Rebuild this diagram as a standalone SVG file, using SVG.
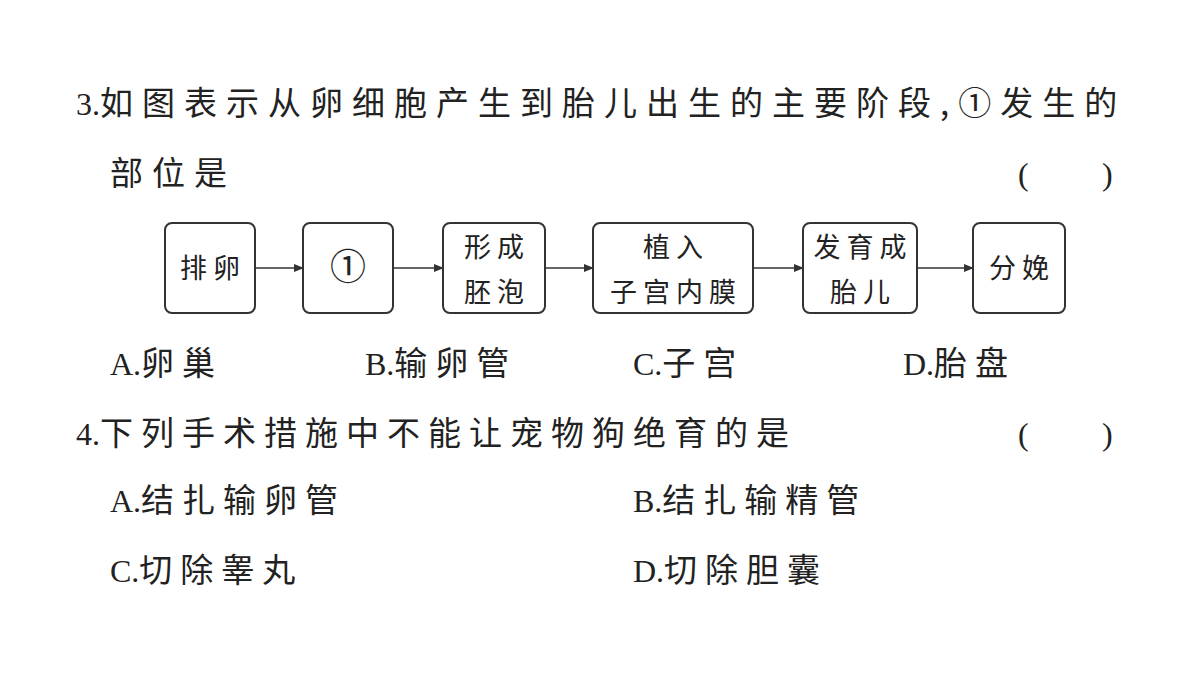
<svg xmlns="http://www.w3.org/2000/svg" width="1200" height="675" viewBox="0 0 1200 675">
<style>
.q{font-family:"Liberation Serif","Noto Sans CJK SC",serif;font-size:32px;fill:#222}
.c{font-family:"Noto Sans CJK SC",sans-serif;font-size:33px;letter-spacing:8px}
.b{fill:#fff;stroke:#333;stroke-width:2}
.t{font-family:"Noto Sans CJK SC",sans-serif;font-size:27px;fill:#222;text-anchor:middle;letter-spacing:6px}
.l{stroke:#333;stroke-width:1.5;fill:none}
</style>
<defs><marker id="a" markerWidth="10" markerHeight="8" refX="9" refY="4" orient="auto" markerUnits="userSpaceOnUse"><path d="M0,0L10,4L0,8z" fill="#333"/></marker></defs>
<rect width="1200" height="675" fill="#fff"/>
<text class="q" x="76" y="115">3.<tspan class="c" style="letter-spacing:9px">如图表示从卵细胞产生到胎儿出生的主要阶段,①发生的</tspan></text>
<text class="q c" x="110" y="185" style="letter-spacing:9px">部位是</text>
<text class="q" x="1018" y="185">(</text><text class="q" x="1102" y="185">)</text>
<g id="n1"><rect class="b" x="165" y="223" width="90" height="90" rx="7"/><text class="t" x="213" y="278">排卵</text></g>
<g id="n2"><rect class="b" x="303" y="223" width="90" height="90" rx="7"/><text class="t" x="348" y="280" style="font-size:36px;letter-spacing:0">①</text></g>
<g id="n3"><rect class="b" x="443" y="223" width="102" height="90" rx="7"/><text class="t" x="497" y="257">形成</text><text class="t" x="497" y="302">胚泡</text></g>
<g id="n4"><rect class="b" x="593" y="223" width="160" height="90" rx="7"/><text class="t" x="676" y="257">植入</text><text class="t" x="676" y="302">子宫内膜</text></g>
<g id="n5"><rect class="b" x="803" y="223" width="114" height="90" rx="7"/><text class="t" x="863" y="257">发育成</text><text class="t" x="863" y="302">胎儿</text></g>
<g id="n6"><rect class="b" x="973" y="223" width="92" height="90" rx="7"/><text class="t" x="1022" y="278">分娩</text></g>
<g id="edges">
<line class="l" x1="255" y1="268" x2="303" y2="268" marker-end="url(#a)"/>
<line class="l" x1="393" y1="268" x2="443" y2="268" marker-end="url(#a)"/>
<line class="l" x1="545" y1="268" x2="593" y2="268" marker-end="url(#a)"/>
<line class="l" x1="753" y1="268" x2="803" y2="268" marker-end="url(#a)"/>
<line class="l" x1="917" y1="268" x2="973" y2="268" marker-end="url(#a)"/>
</g>
<text class="q" x="110" y="375">A.<tspan class="c">卵巢</tspan></text>
<text class="q" x="365" y="375">B.<tspan class="c">输卵管</tspan></text>
<text class="q" x="633" y="375">C.<tspan class="c">子宫</tspan></text>
<text class="q" x="903" y="375">D.<tspan class="c">胎盘</tspan></text>
<text class="q" x="76" y="445">4.<tspan class="c">下列手术措施中不能让宠物狗绝育的是</tspan></text>
<text class="q" x="1018" y="445">(</text><text class="q" x="1102" y="445">)</text>
<text class="q" x="110" y="512">A.<tspan class="c">结扎输卵管</tspan></text>
<text class="q" x="633" y="512">B.<tspan class="c">结扎输精管</tspan></text>
<text class="q" x="110" y="582">C.<tspan class="c">切除睾丸</tspan></text>
<text class="q" x="633" y="582">D.<tspan class="c">切除胆囊</tspan></text>
</svg>
